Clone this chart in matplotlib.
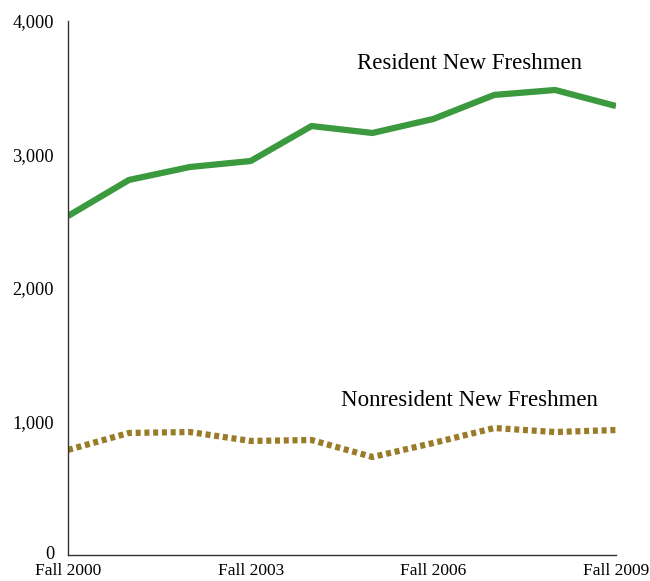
import numpy as np
import matplotlib as mpl
mpl.use('Agg')
import matplotlib.pyplot as plt
import matplotlib.transforms as mtransforms

years = np.arange(2000, 2010)
resident = [2539, 2809, 2906, 2951, 3213, 3161, 3266, 3446, 3483, 3363]
nonresident = [787, 914, 921, 854, 861, 734, 839, 951, 921, 936]
xtick_years = [2000, 2003, 2006, 2009]
xtick_labels = ["Fall 2000", "Fall 2003", "Fall 2006", "Fall 2009"]
yticks = [0, 1000, 2000, 3000, 4000]

plt.rcParams['font.family'] = ['Liberation Serif', 'DejaVu Serif']

fig = plt.figure(figsize=(6.5, 5.81), dpi=100)
ax = fig.add_axes([0.1046, 0.0448, 0.8431, 0.9191])

ax.plot(years, resident, color='#3a9a3d', lw=4.5, solid_capstyle='butt')
ax.plot(years, nonresident, color='#9a7b28', lw=4.5, linestyle=(0, (0.8, 0.6)),
        dash_capstyle='butt')

# series labels placed next to the lines
ax.text(2006.6, 3685, "Resident New Freshmen", ha='center', va='center', fontsize=16.5)
ax.text(2006.6, 1160, "Nonresident New Freshmen", ha='center', va='center', fontsize=16.5)

ax.set_xlim(2000, 2009)
ax.set_ylim(0, 4000)
ax.set_xticks(xtick_years)
ax.set_xticklabels(xtick_labels, fontsize=12.5)
ax.set_yticks(yticks)
ax.set_yticklabels([f"{v:,}" for v in yticks], fontsize=13.2)
ax.tick_params(axis='y', length=0, pad=10)
ax.tick_params(axis='x', length=0, pad=6)

# nudge the "0" label up a touch so it clears "Fall 2000"
zero = ax.get_yticklabels()[0]
zero.set_transform(zero.get_transform() +
                   mtransforms.ScaledTranslation(0, 2 / 72, fig.dpi_scale_trans))

for s in ['top', 'right']:
    ax.spines[s].set_visible(False)
for s in ['left', 'bottom']:
    ax.spines[s].set_color('#333333')
    ax.spines[s].set_linewidth(1.0)

fig.savefig("out.png", dpi=100)
plt.close()
